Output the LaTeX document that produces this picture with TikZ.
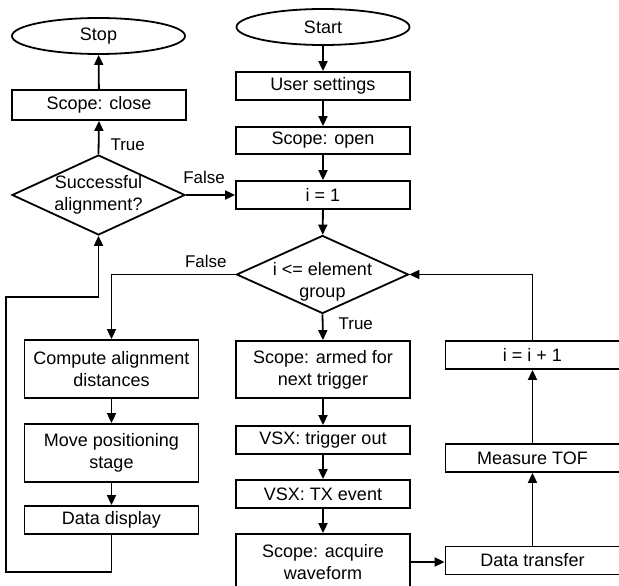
\documentclass[tikz,border=0pt]{standalone}
\usepackage{fontspec}
\setmainfont{Liberation Sans}
\usepackage{xcolor}
\usepackage{tikz}
\usetikzlibrary{shapes.geometric, arrows.meta, positioning}

\tikzset{
    procbox/.style={draw, line width=1.8pt, minimum width=174pt, inner sep=0pt, align=center,
        font=\fontsize{18}{22}\selectfont},
    termnode/.style={draw, ellipse, line width=1.8pt, minimum width=173pt, minimum height=36pt,
        inner sep=0pt, font=\fontsize{18}{22}\selectfont},
    decision/.style={draw, diamond, line width=1.8pt, inner sep=-3pt, shape aspect=2.2, align=center,
        font=\fontsize{18}{22}\selectfont},
    flowline/.style={line width=1.8pt, -{Triangle[length=10pt, width=9pt]}},
    branchlabel/.style={inner sep=0pt, font=\fontsize{17}{20}\selectfont}
}

\begin{document}
\begin{tikzpicture}[x=1pt, y=-1pt]
\useasboundingbox (0,0) rectangle (619,586);

% left branch: end of program
\node[termnode] (stop) at (98.5,36) {Stop};
\node[procbox, minimum height=30pt] (scopeclose) at (99,105) {Scope: close};
\node[decision, minimum width=173pt, minimum height=80pt] (success) at (98.5,195) {Successful\\alignment?};

% main column
\node[termnode] (start) at (323,27) {Start};
\node[procbox, minimum height=28pt] (usersettings) at (323,86) {User settings};
\node[procbox, minimum height=27pt] (scopeopen) at (323,140.5) {Scope: open};
\node[procbox, minimum height=28pt] (iinit) at (323,195) {i = 1};
\node[decision, minimum width=172pt, minimum height=78pt,
    label={[align=center, font=\fontsize{18}{22}\selectfont, yshift=-7pt]center:i {<}= element\\group}]
    (cond) at (322.5,274.5) {};
\node[procbox, minimum height=57pt] (armed) at (323,369.5) {Scope: armed for\\next trigger};
\node[procbox, minimum height=28pt] (trigout) at (323,440) {VSX: trigger out};
\node[procbox, minimum height=28pt] (txevent) at (323,494) {VSX: TX event};
\node[procbox, minimum height=56pt] (acquire) at (323,562) {Scope: acquire\\waveform};

% right column
\node[procbox, minimum height=28pt] (datatransfer) at (532.5,560.5) {Data transfer};
\node[procbox, minimum height=28pt] (measuretof) at (532.5,458) {Measure TOF};
\node[procbox, minimum height=28pt] (iincr) at (532.5,355) {i = i + 1};

% alignment column
\node[procbox, minimum height=58pt] (computedist) at (111.5,369) {Compute alignment\\distances};
\node[procbox, minimum height=58pt] (movestage) at (111.5,453) {Move positioning\\stage};
\node[procbox, minimum height=28pt] (datadisplay) at (111.5,520) {Data display};

\coordinate (loopbl) at (6,572);
\coordinate (looptl) at (6,297);

% connectors
\draw[flowline] (start) -- (usersettings);
\draw[flowline] (usersettings) -- (scopeopen);
\draw[flowline] (scopeopen) -- (iinit);
\draw[flowline] (iinit) -- (cond);
\draw[flowline] (cond.south) -- node[branchlabel, pos=0.36, right=15pt] {True} (armed.north);
\draw[flowline] (armed) -- (trigout);
\draw[flowline] (trigout) -- (txevent);
\draw[flowline] (txevent) -- (acquire);
\draw[flowline] (acquire.east) -- (acquire.east -| datatransfer.west);
\draw[flowline] (datatransfer) -- (measuretof);
\draw[flowline] (measuretof) -- (iincr);
\draw[flowline] (iincr.north) |- (cond.east);
\draw[flowline] (cond.west) -| node[branchlabel, pos=0.12, above=6pt] {False} (computedist.north);
\draw[flowline] (computedist) -- (movestage);
\draw[flowline] (movestage) -- (datadisplay);
\draw[flowline] (datadisplay.south) |- (loopbl) -- (looptl) -| (success.south);
\draw[flowline] (success.north) -- node[branchlabel, pos=0.29, right=11pt] {True} (scopeclose.south);
\draw[flowline] (scopeclose) -- (stop);
\draw[flowline] (success.east) -- node[branchlabel, pos=0.37, above=10pt] {False} (success.east -| iinit.west);

\end{tikzpicture}
\end{document}
